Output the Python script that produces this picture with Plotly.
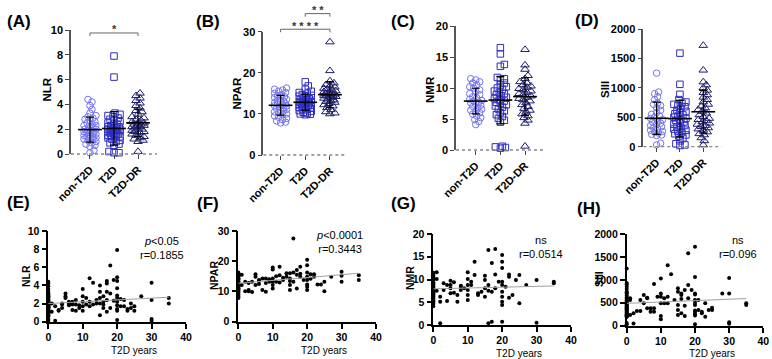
import numpy as np
import plotly.graph_objects as go

W, H = 772, 359
FONT = "Liberation Sans, Arial, Helvetica, sans-serif"

groups = ["non-T2D", "T2D", "T2D-DR"]
group_colors = ["#7373f0", "#2d2dc0", "#1c1c6b"]
group_symbols = ["circle-open", "square-open", "triangle-up-open"]
group_sizes = [6.5, 6.5, 7.5]

# ---------------- top row: group values ----------------
nlr_non = [4.4, 4.2, 3.9, 3.6, 3.3, 3.1, 3.0, 2.9, 2.8, 2.7, 2.6, 2.5, 2.4, 2.3, 2.3, 2.2, 2.1, 2.0, 2.0, 1.9,
           1.9, 1.8, 1.8, 1.7, 1.7, 1.6, 1.6, 1.5, 1.5, 1.4, 1.4, 1.3, 1.3, 1.2, 1.2, 1.1, 1.0, 0.9, 0.8, 0.7,
           0.6, 0.3, 0.1]
nlr_t2d = [7.9, 6.2, 3.3, 3.2, 3.1, 3.0, 2.9, 2.8, 2.7, 2.6, 2.5, 2.4, 2.3, 2.3, 2.2, 2.2, 2.1, 2.1, 2.0, 2.0,
           2.0, 1.9, 1.9, 1.9, 1.8, 1.8, 1.8, 1.7, 1.7, 1.6, 1.6, 1.5, 1.5, 1.4, 1.4, 1.3, 1.2, 1.1, 1.0, 0.9,
           0.8, 0.7, 0.2, 0.1, 0.1]
nlr_dr = [4.9, 4.7, 4.5, 4.3, 4.1, 3.9, 3.7, 3.5, 3.4, 3.2, 3.0, 2.9, 2.8, 2.7, 2.6, 2.5, 2.5, 2.4, 2.4, 2.3,
          2.3, 2.2, 2.2, 2.1, 2.0, 2.0, 1.9, 1.8, 1.8, 1.7, 1.6, 1.5, 1.4, 1.3, 1.2, 1.1, 1.0, 0.2]

npar_non = [16.3, 16.0, 15.8, 15.5, 15.2, 15.0, 14.7, 14.4, 14.2, 14.0, 13.8, 13.5, 13.3, 13.1, 12.9, 12.7,
            12.5, 12.4, 12.2, 12.0, 11.9, 11.7, 11.5, 11.3, 11.1, 10.9, 10.7, 10.5, 10.3, 10.0, 9.8, 9.5,
            9.2, 8.9, 8.6, 8.3, 8.0, 7.8]
npar_t2d = [17.8, 16.8, 16.0, 15.5, 15.2, 15.0, 14.7, 14.5, 14.3, 14.1, 13.9, 13.7, 13.5, 13.4, 13.3, 13.1,
            13.0, 12.9, 12.8, 12.7, 12.6, 12.5, 12.4, 12.3, 12.2, 12.1, 12.0, 11.9, 11.8, 11.6, 11.4, 11.2,
            11.0, 10.8, 10.6, 10.4, 10.2, 10.0, 9.9, 9.8]
npar_dr = [27.5, 20.5, 18.0, 17.5, 17.1, 16.8, 16.5, 16.2, 16.0, 15.8, 15.6, 15.4, 15.2, 15.0, 14.9, 14.8,
           14.6, 14.5, 14.4, 14.3, 14.2, 14.0, 13.8, 13.6, 13.4, 13.2, 13.0, 12.8, 12.5, 12.2, 11.9, 11.5,
           11.0, 10.5, 10.2, 10.0]

nmr_non = [11.5, 11.3, 11.0, 10.8, 10.5, 10.2, 10.0, 9.7, 9.4, 9.1, 8.9, 8.6, 8.4, 8.2, 8.0, 7.9, 7.7, 7.6,
           7.4, 7.2, 7.0, 6.8, 6.6, 6.4, 6.2, 6.0, 5.8, 5.5, 5.2, 4.9, 4.6, 4.1]
nmr_t2d = [16.5, 15.5, 13.8, 13.5, 11.7, 11.5, 11.2, 10.8, 10.5, 10.2, 10.0, 9.8, 9.5, 9.3, 9.1, 8.9, 8.7,
           8.5, 8.3, 8.1, 7.9, 7.7, 7.5, 7.3, 7.1, 6.9, 6.6, 6.3, 6.0, 5.7, 5.4, 5.1, 4.8, 4.5, 0.6, 0.5,
           0.4, 0.3]
nmr_dr = [16.2, 13.7, 13.0, 12.0, 11.5, 11.0, 10.8, 10.5, 10.3, 10.1, 9.9, 9.7, 9.5, 9.3, 9.1, 8.9, 8.7,
          8.5, 8.3, 8.1, 7.9, 7.6, 7.3, 7.0, 6.7, 6.4, 6.1, 5.8, 5.5, 5.2, 4.8, 4.3, 0.6]

siii_non = [1250, 930, 900, 850, 800, 740, 720, 700, 660, 620, 580, 550, 520, 500, 480, 460, 440, 420, 400,
            380, 360, 340, 320, 300, 280, 260, 250, 230, 210, 200, 190, 60, 30]
siii_t2d = [1590, 1060, 890, 800, 760, 740, 720, 700, 680, 650, 620, 600, 580, 560, 540, 520, 500, 480, 460,
            440, 420, 400, 380, 360, 340, 320, 300, 280, 260, 240, 220, 200, 180, 150, 100, 50, 30, 20]
siii_dr = [1720, 1300, 1100, 1050, 1000, 960, 920, 880, 840, 800, 760, 720, 690, 660, 630, 600, 570, 540,
           510, 480, 460, 440, 420, 400, 380, 360, 340, 320, 300, 280, 250, 220, 200, 150, 100, 30]

# ---------------- bottom row: T2D years vs index (year-0 column = non-T2D) ----------------
e_years = [1, 1, 2, 2, 3, 3, 4, 4, 4, 5, 5, 5, 6, 6, 6, 7, 7, 7, 8, 8, 8, 9, 9, 10, 10, 10, 10, 10, 11, 11,
           12, 12, 12, 13, 13, 14, 14, 15, 15, 15, 15, 15, 16, 16, 16, 16, 17, 17, 17, 17, 17, 18, 18, 18,
           19, 19, 20, 20, 20, 20, 20, 20, 20, 20, 20, 20, 20, 21, 21, 22, 22, 23, 23, 24, 24, 25, 25, 27,
           30, 30, 30, 30, 35, 35]
e_vals = [2.0, 1.1, 0.1, 1.7, 1.2, 1.3, 1.5, 2.0, 1.9, 3.1, 2.8, 2.6, 2.2, 2.0, 1.8, 2.2, 1.3, 1.9, 2.4, 1.2,
          1.9, 1.8, 1.5, 3.6, 2.8, 2.2, 1.7, 1.2, 1.9, 2.6, 4.8, 2.2, 1.7, 4.3, 1.9, 2.4, 2.0, 4.0, 3.3, 2.6,
          2.0, 0.7, 1.5, 2.8, 2.2, 1.9, 2.4, 4.2, 3.3, 1.1, 4.5, 3.1, 6.2, 1.5, 4.6, 2.3, 7.9, 4.9, 4.5, 3.7,
          2.9, 2.6, 2.2, 1.8, 1.4, 1.2, 0.2, 1.7, 2.5, 1.7, 2.4, 1.4, 1.2, 2.0, 1.5, 1.7, 1.2, 2.8, 4.3, 2.4,
          0.3, 0.1, 2.6, 2.0]

f_years = [1, 1, 2, 2, 3, 3, 3, 4, 4, 5, 5, 5, 6, 6, 6, 7, 7, 8, 8, 8, 9, 9, 10, 10, 10, 10, 10, 10, 11, 11,
           12, 12, 12, 13, 13, 14, 14, 15, 15, 15, 15, 15, 16, 16, 16, 17, 17, 17, 18, 18, 18, 19, 20, 20,
           20, 20, 20, 20, 20, 20, 21, 21, 22, 22, 23, 24, 25, 25, 27, 30, 30, 30, 35, 35]
f_vals = [12.1, 15.5, 10.1, 13.2, 10.1, 10.5, 12.8, 13.2, 9.8, 14.9, 12.1, 15.7, 13.8, 13.5, 12.5, 14.3, 10.5,
          9.9, 14.3, 12.8, 13.2, 14.0, 17.9, 17.3, 14.3, 13.2, 12.1, 11.0, 13.2, 15.0, 18.2, 15.4, 13.0, 13.8,
          14.5, 14.9, 16.0, 16.0, 14.3, 12.1, 10.5, 13.5, 16.3, 27.5, 13.2, 17.1, 15.5, 11.0, 18.2, 15.9, 14.9,
          13.8, 20.5, 18.7, 16.3, 14.9, 13.8, 12.3, 11.6, 10.5, 15.7, 14.2, 14.9, 15.7, 12.3, 12.3, 13.2, 10.1,
          14.9, 16.5, 15.2, 13.2, 15.4, 13.8]

g_years = [1, 1, 1, 2, 2, 2, 3, 3, 4, 4, 5, 5, 5, 5, 6, 6, 7, 7, 8, 8, 8, 9, 10, 10, 10, 10, 10, 10, 11, 11,
           12, 12, 13, 13, 14, 15, 15, 15, 15, 16, 16, 16, 16, 17, 17, 17, 18, 18, 18, 19, 20, 20, 20, 20,
           20, 20, 20, 20, 20, 20, 21, 22, 22, 22, 23, 24, 25, 25, 27, 30, 30, 35, 35]
g_vals = [11.6, 10.1, 7.5, 6.2, 5.1, 0.4, 7.7, 9.2, 5.3, 8.8, 8.1, 7.0, 9.7, 8.8, 7.1, 9.4, 6.6, 5.1, 8.4, 7.7,
          8.6, 8.1, 11.6, 10.1, 8.8, 7.7, 6.6, 5.5, 9.5, 8.8, 13.9, 11.0, 7.0, 6.6, 7.3, 6.2, 10.8, 9.9, 8.1,
          7.5, 16.5, 8.8, 0.4, 13.6, 0.7, 7.3, 16.7, 11.1, 8.1, 9.5, 15.4, 13.9, 12.5, 9.5, 8.8, 7.3, 6.2, 5.1,
          4.4, 0.7, 8.4, 11.1, 10.6, 6.0, 6.6, 9.9, 4.8, 11.0, 8.8, 9.9, 0.5, 9.5, 9.2]

h_years = [1, 1, 1, 2, 2, 3, 4, 4, 5, 5, 6, 6, 6, 7, 7, 8, 8, 8, 9, 10, 10, 10, 10, 10, 10, 11, 11, 12, 12,
           12, 13, 14, 15, 15, 15, 15, 15, 16, 16, 16, 16, 17, 17, 17, 18, 18, 18, 19, 20, 20, 20, 20, 20,
           20, 20, 20, 20, 20, 20, 20, 21, 21, 22, 22, 23, 23, 24, 25, 25, 28, 30, 30, 30, 30, 35, 35]
h_vals = [560, 596, 233, 50, 270, 320, 320, 560, 670, 490, 596, 610, 378, 378, 305, 378, 305, 910, 633, 1030,
          705, 633, 490, 210, 140, 596, 490, 633, 1320, 490, 1120, 560, 815, 742, 450, 340, 233, 670, 270, 705,
          580, 780, 436, 210, 890, 1580, 596, 780, 1720, 1060, 700, 680, 560, 500, 450, 330, 300, 250, 220, 30,
          560, 340, 270, 305, 490, 196, 340, 393, 340, 705, 1040, 705, 73, 44, 490, 450]

# linear fit (intercept, slope) and statistics text
fit_params = {"E": (2.0, 0.02), "F": (12.7, 0.095), "G": (7.95, 0.018), "H": (487.0, 3.0)}
stat_text = {"E": ("<i>p</i>&lt;0.05", "r=0.1855"), "F": ("<i>p</i>&lt;0.0001", "r=0.3443"),
             "G": ("ns", "r=0.0514"), "H": ("ns", "r=0.096")}

# ---------------- layout geometry (pixels) ----------------
top_panels = [
    dict(key="A", title="NLR", data=[nlr_non, nlr_t2d, nlr_dr], xpx=(71, 157), xr=(-0.79, 2.79),
         ypx=(154, 30), ymax=10, dtick=2, brackets=[(0, 2, 9.76, "*")],
         label=(18.5, 21), ytitle=(46.5, 90)),
    dict(key="B", title="NPAR", data=[npar_non, npar_t2d, npar_dr], xpx=(263.3, 346.7), xr=(-0.7, 2.68),
         ypx=(155, 31.7), ymax=30, dtick=10, brackets=[(0, 2, 30.6, "* * * *"), (1, 2, 34.4, "* *")],
         label=(208, 21), ytitle=(236.5, 93)),
    dict(key="C", title="NMR", data=[nmr_non, nmr_t2d, nmr_dr], xpx=(456, 543), xr=(-0.8, 2.73),
         ypx=(150, 26), ymax=20, dtick=5, brackets=[],
         label=(403, 21), ytitle=(430, 90)),
    dict(key="D", title="SIII", data=[siii_non, siii_t2d, siii_dr], xpx=(643.3, 721.7), xr=(-0.57, 2.79),
         ypx=(146.7, 29), ymax=2000, dtick=500, brackets=[],
         label=(586.5, 20), ytitle=(605, 90)),
]
bottom_panels = [
    dict(key="E", title="NLR", years=e_years, vals=e_vals, zero=nlr_non, xpx=(48.3, 186),
         ypx=(321.7, 231), ymax=10, dtick=2, label=(18.5, 202), ytitle=(26, 276), stat=(33, 8.1),
         xtitle_y=350),
    dict(key="F", title="NPAR", years=f_years, vals=f_vals, zero=npar_non, xpx=(238.3, 376),
         ypx=(321.7, 231), ymax=30, dtick=10, label=(208, 203), ytitle=(214, 276), stat=(29.3, 26.2),
         xtitle_y=350),
    dict(key="G", title="NMR", years=g_years, vals=g_vals, zero=nmr_non, xpx=(433.3, 571),
         ypx=(325, 234), ymax=20, dtick=5, label=(403.5, 203), ytitle=(410, 278), stat=(31.3, 17.1),
         xtitle_y=353),
    dict(key="H", title="SIII", years=h_years, vals=h_vals, zero=siii_non, xpx=(626.7, 763.3),
         ypx=(325.7, 234), ymax=2000, dtick=500, label=(589, 208), ytitle=(599, 279), stat=(32.7, 1716),
         xtitle_y=353.5),
]


def pxx(px):
    return px / W


def pxy(py):
    return 1 - py / H


def axid(i, letter):
    return letter if i == 1 else f"{letter}{i}"


def laykey(i, letter):
    return f"{letter}axis" if i == 1 else f"{letter}axis{i}"


def swarm(vals, kv, kh, diam=4.2, maxhalf=6.0, step=1.0):
    vals = np.asarray(vals, float)
    order = np.argsort(vals, kind="stable")
    cands = [0.0]
    s = step
    while s <= maxhalf + 1e-9:
        cands += [s, -s]
        s += step
    placed = []
    off = np.zeros(len(vals))
    for i in order:
        y = vals[i] * kv
        best, bestd = 0.0, -1.0
        for c in cands:
            d = min((np.hypot(c - px, y - py) for px, py in placed), default=1e9)
            if d >= diam:
                best = c
                break
            if d > bestd:
                best, bestd = c, d
        placed.append((best, y))
        off[i] = best
    return off / kh


def paper_text(x, y, text, size, angle=0, color="black"):
    return dict(x=pxx(x), y=pxy(y), xref="paper", yref="paper", xanchor="center", yanchor="middle",
                text=text, textangle=angle, showarrow=False,
                font=dict(family=FONT, size=size, color=color))


fig = go.Figure()
layout = {}
annotations = []
shapes = []

bold_tick = dict(family=FONT, size=11, color="black", weight="bold")

# ---------------- top panels ----------------
for n, p in enumerate(top_panels, start=1):
    xa, ya = axid(n, "x"), axid(n, "y")
    x0, x1 = p["xpx"]
    y0, y1 = p["ypx"]
    kv = (y0 - y1) / p["ymax"]
    kh = (x1 - x0) / (p["xr"][1] - p["xr"][0])

    for g, vals in enumerate(p["data"]):
        offs = swarm(vals, kv, kh)
        fig.add_trace(go.Scatter(
            x=g + offs, y=vals, mode="markers", xaxis=xa, yaxis=ya, cliponaxis=False,
            showlegend=False, hoverinfo="skip",
            marker=dict(symbol=group_symbols[g], size=group_sizes[g], color=group_colors[g],
                        line=dict(width=1, color=group_colors[g]))))
    means = [float(np.mean(v)) for v in p["data"]]
    sds = [float(np.std(v, ddof=1)) for v in p["data"]]
    fig.add_trace(go.Scatter(
        x=[0, 1, 2], y=means, mode="markers", xaxis=xa, yaxis=ya, cliponaxis=False,
        showlegend=False, hoverinfo="skip",
        marker=dict(symbol="line-ew", size=17, color="black", line=dict(width=1.6, color="black")),
        error_y=dict(type="data", array=sds, visible=True, width=4, thickness=1.2, color="black")))

    layout[laykey(n, "x")] = dict(
        domain=[pxx(x0), pxx(x1)], range=list(p["xr"]), anchor=ya, automargin=False,
        tickmode="array", tickvals=[0, 1, 2], ticktext=groups, tickangle=-45,
        ticks="outside", ticklen=4, tickwidth=1.2, tickcolor="#444",
        showline=False, showgrid=False, zeroline=False, tickfont=bold_tick)
    layout[laykey(n, "y")] = dict(
        domain=[pxy(y0), pxy(y1)], range=[0, p["ymax"]], anchor=xa, automargin=False,
        tickmode="linear", tick0=0, dtick=p["dtick"],
        ticks="outside", ticklen=4, tickwidth=1.4, tickcolor="#444",
        showline=True, linecolor="#555", linewidth=1.5,
        showgrid=False, zeroline=False, tickfont=bold_tick)

    # dotted baseline
    shapes.append(dict(type="line", xref=xa, yref=f"{ya} domain", x0=p["xr"][0], x1=p["xr"][1],
                       y0=0, y1=0, line=dict(color="#888", width=1.3, dash="dot")))
    # significance brackets
    for c0, c1, h, txt in p["brackets"]:
        yb_px = y0 - h * kv
        yb = pxy(yb_px)
        shapes.append(dict(type="line", xref=xa, yref="paper", x0=c0, x1=c1, y0=yb, y1=yb,
                           line=dict(color="#666", width=1)))
        for c in (c0, c1):
            shapes.append(dict(type="line", xref=xa, yref="paper", x0=c, x1=c, y0=yb, y1=pxy(yb_px + 3),
                               line=dict(color="#666", width=1)))
        annotations.append(dict(x=(c0 + c1) / 2, y=pxy(yb_px - 3.5), xref=xa, yref="paper",
                                xanchor="center", yanchor="middle", text=txt, showarrow=False,
                                font=dict(family=FONT, size=11, color="#333", weight="bold")))
    annotations.append(paper_text(*p["label"], f"<b>({p['key']})</b>", 17))
    annotations.append(paper_text(*p["ytitle"], f"<b>{p['title']}</b>", 11.5, angle=-90))

# ---------------- bottom panels ----------------
bold_tick_b = dict(family=FONT, size=10.5, color="black", weight="bold")
for m, p in enumerate(bottom_panels):
    n = m + 5
    xa, ya = axid(n, "x"), axid(n, "y")
    x0, x1 = p["xpx"]
    y0, y1 = p["ypx"]
    xs = [0.0] * len(p["zero"]) + list(p["years"])
    ys = list(p["zero"]) + list(p["vals"])
    fig.add_trace(go.Scatter(
        x=xs, y=ys, mode="markers", xaxis=xa, yaxis=ya, cliponaxis=False,
        showlegend=False, hoverinfo="skip",
        marker=dict(symbol="circle", size=4, color="black")))
    a, b = fit_params[p["key"]]
    fx = np.array([min(xs), max(xs)], float)
    fig.add_trace(go.Scatter(
        x=fx, y=a + b * fx, mode="lines", xaxis=xa, yaxis=ya, showlegend=False, hoverinfo="skip",
        line=dict(color="#a0a0a0", width=1)))

    layout[laykey(n, "x")] = dict(
        domain=[pxx(x0), pxx(x1)], range=[0, 40], anchor=ya, automargin=False,
        tickmode="linear", tick0=0, dtick=10,
        ticks="outside", ticklen=5, tickwidth=1.5, tickcolor="black",
        showline=True, linecolor="black", linewidth=1.6,
        showgrid=False, zeroline=False, tickfont=bold_tick_b, ticklabelstandoff=0)
    layout[laykey(n, "y")] = dict(
        domain=[pxy(y0), pxy(y1)], range=[0, p["ymax"]], anchor=xa, automargin=False,
        tickmode="linear", tick0=0, dtick=p["dtick"],
        ticks="outside", ticklen=5, tickwidth=1.5, tickcolor="black",
        showline=True, linecolor="black", linewidth=1.6,
        showgrid=False, zeroline=False, tickfont=bold_tick_b)

    t1, t2 = stat_text[p["key"]]
    annotations.append(dict(x=p["stat"][0], y=p["stat"][1], xref=xa, yref=ya,
                            xanchor="center", yanchor="middle",
                            text=f"{t1}<br>{t2}", showarrow=False, align="center",
                            font=dict(family=FONT, size=11, color="black")))
    annotations.append(paper_text(*p["label"], f"<b>({p['key']})</b>", 17))
    annotations.append(paper_text(*p["ytitle"], f"<b>{p['title']}</b>", 10.5, angle=-90))
    annotations.append(dict(x=25, y=pxy(p["xtitle_y"]), xref=xa, yref="paper",
                            xanchor="center", yanchor="middle",
                            text="T2D years", showarrow=False,
                            font=dict(family=FONT, size=10, color="black")))

fig.update_layout(
    width=W, height=H, margin=dict(l=0, r=0, t=0, b=0, autoexpand=False),
    paper_bgcolor="white", plot_bgcolor="white",
    font=dict(family=FONT, color="black"),
    annotations=annotations, shapes=shapes, showlegend=False,
    **layout)

fig.write_html("out.html")
